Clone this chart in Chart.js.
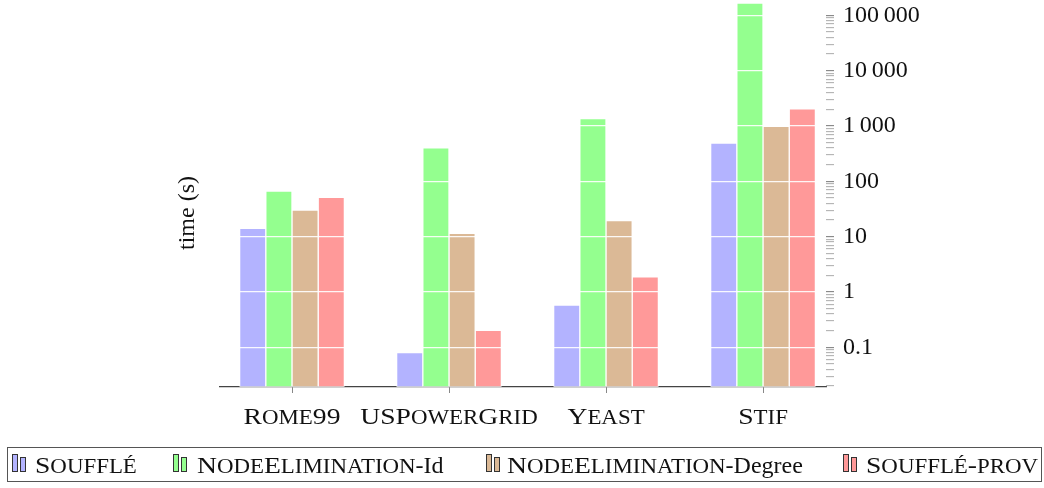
<!DOCTYPE html>
<html>
<head>
<meta charset="utf-8">
<script src="https://cdn.jsdelivr.net/npm/chart.js@4"></script>
<style>
    body { margin: 0; background: #fff; }
    #chart-box { position: relative; width: 1044px; height: 488px; }
</style>
</head>
<body>
<div id="chart-box"><canvas id="chart"></canvas></div>
<script>
// Data (seconds, log axis)
const categories = ['Rome99', 'USPowerGrid', 'Yeast', 'Stif'];
const souffle = [14.2, 0.08, 0.58, 490];
const nodeElimId = [67, 406, 1360, 168000];
const nodeElimDegree = [30.4, 11.5, 19.5, 990];
const souffleProv = [51.6, 0.203, 1.87, 2040];

const tickValues = [0.1, 1, 10, 100, 1000, 10000, 100000];
const tickLabels = ['0.1', '1', '10', '100', '1\u2009000', '10\u2009000', '100\u2009000'];

const seriesNames = ['Soufflé', 'NodeElimination-Id', 'NodeElimination-Degree', 'Soufflé-prov'];
const seriesColors = ['#b3b3ff', '#94ff8f', '#dbb996', '#ff9999'];

// legend text runs: sc = small caps
const legendRuns = [
    [{ text: 'Soufflé', sc: true }],
    [{ text: 'NodeElimination', sc: true }, { text: '-Id', sc: false }],
    [{ text: 'NodeElimination', sc: true }, { text: '-Degree', sc: false }],
    [{ text: 'Soufflé-prov', sc: true }]
];

const yMin = 0.0191;
const yMax = 190500;
const serif = '"Liberation Serif", serif';
const SC_STRETCH = 1.15;
const SC_SMALL = 0.83;

function toPoints(values) {
    return values.map((v, i) => ({ x: i, y: v }));
}

// minor + major ticks for the log axis
function logTicks() {
    const out = [];
    for (let e = -2; e <= 5; e++) {
        for (let m = 1; m <= 9; m++) {
            const v = Number((m * Math.pow(10, e)).toPrecision(3));
            if (v >= yMin && v <= yMax) out.push({ value: v });
        }
    }
    return out;
}

// fake small caps: lowercase letters drawn as smaller capitals
function segmentsOf(runs, size) {
    const segs = [];
    runs.forEach(r => {
        if (!r.sc) { segs.push({ t: r.text, size: size, sx: 1 }); return; }
        let cur = null;
        for (const ch of r.text) {
            const low = ch !== ch.toUpperCase();
            const s = low ? size * SC_SMALL : size;
            const t = low ? ch.toUpperCase() : ch;
            if (cur && cur.size === s) cur.t += t;
            else { cur = { t: t, size: s, sx: SC_STRETCH }; segs.push(cur); }
        }
    });
    return segs;
}

function drawRuns(ctx, runs, x, y, size, align) {
    const segs = segmentsOf(runs, size);
    let total = 0;
    segs.forEach(s => {
        ctx.font = s.size + 'px ' + serif;
        s.w = ctx.measureText(s.t).width * s.sx;
        total += s.w;
    });
    let cx = align === 'center' ? x - total / 2 : x;
    ctx.textAlign = 'left';
    ctx.textBaseline = 'alphabetic';
    segs.forEach(s => {
        ctx.save();
        ctx.font = s.size + 'px ' + serif;
        ctx.translate(cx, y);
        ctx.scale(s.sx, 1);
        ctx.fillText(s.t, 0, 0);
        ctx.restore();
        cx += s.w;
    });
}

const textPlugin = {
    id: 'texts',
    afterDraw(chart) {
        const ctx = chart.ctx;
        const xs = chart.scales.x;
        ctx.save();
        ctx.fillStyle = '#111';

        // y axis title on the left
        ctx.save();
        ctx.translate(188, 213);
        ctx.rotate(-Math.PI / 2);
        ctx.font = '24px ' + serif;
        ctx.textAlign = 'center';
        ctx.textBaseline = 'middle';
        ctx.fillText('time (s)', 0, 0);
        ctx.restore();

        // category labels in small caps
        categories.forEach((c, i) => {
            drawRuns(ctx, [{ text: c, sc: true }], xs.getPixelForValue(i), 424, 24, 'center');
        });

        // legend box
        ctx.strokeStyle = '#555';
        ctx.lineWidth = 1;
        ctx.strokeRect(7.5, 447.5, 1034, 34);
        const iconX = [12, 173, 486, 843];
        const textX = [35, 197, 507, 866];
        seriesColors.forEach((col, i) => {
            ctx.fillStyle = col;
            ctx.strokeStyle = '#333';
            ctx.fillRect(iconX[i] + 0.5, 454.5, 5, 17);
            ctx.strokeRect(iconX[i] + 0.5, 454.5, 5, 17);
            ctx.fillRect(iconX[i] + 8.5, 457.5, 5, 14);
            ctx.strokeRect(iconX[i] + 8.5, 457.5, 5, 14);
            ctx.fillStyle = '#111';
            drawRuns(ctx, legendRuns[i], textX[i], 473, 24, 'left');
        });
        ctx.restore();
    }
};

const datasetList = [souffle, nodeElimId, nodeElimDegree, souffleProv].map((vals, i) => ({
    label: seriesNames[i],
    data: toPoints(vals),
    backgroundColor: seriesColors[i],
    borderColor: 'rgba(255,255,255,0.75)',
    borderWidth: 1,
    borderSkipped: false,
    barThickness: 26.2
}));

new Chart(document.getElementById('chart'), {
    type: 'bar',
    data: { datasets: datasetList },
    options: {
        responsive: true,
        maintainAspectRatio: false,
        animation: false,
        layout: { padding: { left: 220, right: 0, top: 0, bottom: 48 } },
        plugins: { legend: { display: false }, tooltip: { enabled: false } },
        scales: {
            x: {
                type: 'linear',
                offset: false,
                min: -0.4586,
                max: 3.401,
                afterBuildTicks: s => { s.ticks = categories.map((c, i) => ({ value: i })); },
                afterFit: s => { s.height = 53; s.paddingLeft = 0; s.paddingRight = 0; },
                ticks: { display: false },
                grid: { offset: false, drawOnChartArea: false, tickLength: 6, tickColor: '#888' },
                border: { color: '#444', width: 1.3 }
            },
            y: {
                type: 'logarithmic',
                position: 'right',
                min: yMin,
                max: yMax,
                afterBuildTicks: s => { s.ticks = logTicks(); },
                afterFit: s => { s.width = 218; s.paddingTop = 0; s.paddingBottom = 0; },
                ticks: {
                    autoSkip: false,
                    padding: 9,
                    color: '#111',
                    font: { family: serif, size: 24 },
                    callback: v => {
                        const k = tickValues.indexOf(v);
                        return k >= 0 ? tickLabels[k] : '';
                    }
                },
                grid: {
                    z: 1,
                    tickLength: 8,
                    lineWidth: 1.3,
                    color: c => tickValues.includes(c.tick.value) ? 'rgba(255,255,255,0.9)' : 'rgba(0,0,0,0)',
                    tickColor: c => tickValues.includes(c.tick.value) ? '#777' : '#aaa',
                    tickWidth: 1
                },
                border: { display: false }
            }
        }
    },
    plugins: [textPlugin]
});
</script>
</body>
</html>
